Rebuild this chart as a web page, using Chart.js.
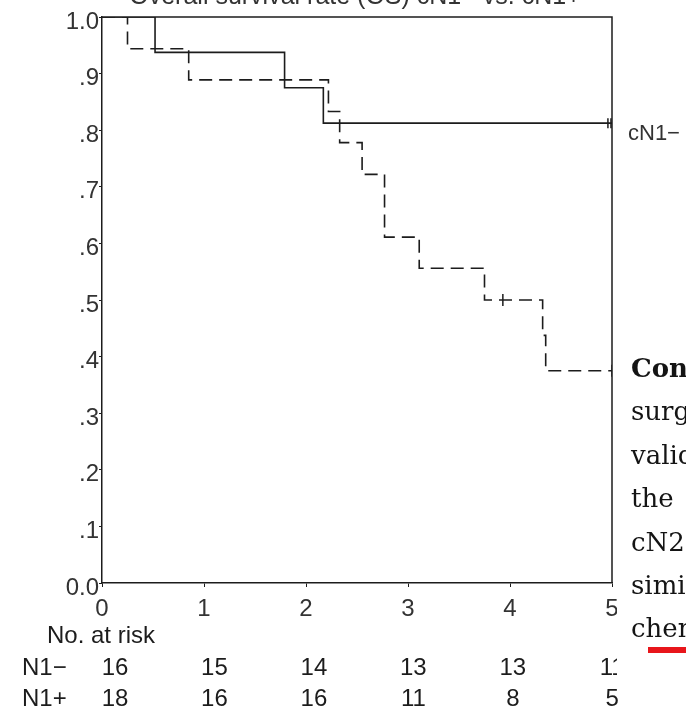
<!DOCTYPE html>
<html>
<head>
<meta charset="utf-8">
<script src="https://cdn.jsdelivr.net/npm/chart.js@4"></script>
<style>
  body { margin: 0; background: #fff; }
  canvas { display: block; }
</style>
</head>
<body>
<canvas id="km" width="686" height="710"></canvas>
<script>
// survival steps (time in years, survival after the event)
const timesNeg = [0, 0.52, 1.79, 2.17, 5];
const survNeg = [1, 0.9375, 0.875, 0.8125, 0.8125];
const timesPos = [0, 0.25, 0.85, 2.22, 2.33, 2.55, 2.77, 3.11, 3.75, 4.32, 4.35, 5];
const survPos = [1, 0.944, 0.889, 0.833, 0.778, 0.722, 0.611, 0.556, 0.5, 0.4375, 0.375, 0.375];

// censored marks
const censorTimesNeg = [4.96, 4.99];
const censorSurvNeg = [0.8125, 0.8125];
const censorTimesPos = [3.93, 5];
const censorSurvPos = [0.5, 0.375];

// number at risk table
const riskYears = [0, 1, 2, 3, 4, 5];
const riskNeg = [16, 15, 14, 13, 13, 11];
const riskPos = [18, 16, 16, 11, 8, 5];
const riskRowLabels = ['N1\u2212', 'N1+'];

const yTickLabels = ['0.0', '.1', '.2', '.3', '.4', '.5', '.6', '.7', '.8', '.9', '1.0'];
const xTickLabels = ['0', '1', '2', '3', '4', '5'];

const titleText = 'Overall survival rate (OS) cN1\u2212 vs. cN1+';
const curveLabel = 'cN1\u2212';
const pageLines = ['Conclusions', 'surgery', 'validated', 'the', 'cN2', 'similar', 'chemotherapy'];

const toPoints = (xs, ys) => xs.map((t, i) => ({ x: t, y: ys[i] }));

const ink = '#1c1c1c';
const sans = '"Liberation Sans", Arial, sans-serif';

const extras = {
  id: 'extras',
  afterDraw(chart) {
    const { ctx, chartArea: a, scales: { x } } = chart;
    ctx.save();

    // top and right side of the frame
    ctx.strokeStyle = ink;
    ctx.lineWidth = 1.5;
    ctx.beginPath();
    ctx.moveTo(a.left, a.top);
    ctx.lineTo(a.right, a.top);
    ctx.lineTo(a.right, a.bottom);
    ctx.stroke();

    // title, only its lower edge is in the picture
    ctx.fillStyle = '#333';
    ctx.font = '25px ' + sans;
    ctx.textAlign = 'center';
    ctx.textBaseline = 'alphabetic';
    ctx.fillText(titleText, 355, 4);

    // curve label at the right
    ctx.textAlign = 'left';
    ctx.textBaseline = 'middle';
    ctx.font = '22px ' + sans;
    ctx.fillStyle = '#333';
    ctx.fillText(curveLabel, 628, 134);

    // number at risk
    ctx.fillStyle = ink;
    ctx.font = '24px ' + sans;
    ctx.fillText('No. at risk', 47, 636);
    ctx.fillText(riskRowLabels[0], 22, 668);
    ctx.fillText(riskRowLabels[1], 22, 699);
    ctx.textAlign = 'center';
    riskYears.forEach((yr, i) => {
      const px = x.getPixelForValue(yr * 0.975) + 13;
      ctx.fillText(String(riskNeg[i]), px, 668);
      ctx.fillText(String(riskPos[i]), px, 699);
    });

    // the page pasted over the lower right corner
    ctx.fillStyle = '#fff';
    ctx.fillRect(617, 338, 69, 342);
    ctx.fillStyle = '#141414';
    ctx.textAlign = 'left';
    ctx.textBaseline = 'alphabetic';
    pageLines.forEach((w, i) => {
      ctx.font = (i === 0 ? 'bold ' : '') + '26px "DejaVu Serif", "Liberation Serif", serif';
      ctx.fillText(w, 631, 377 + i * 43.4);
    });
    ctx.fillStyle = '#e8161b';
    ctx.fillRect(648, 647, 38, 6);

    ctx.restore();
  }
};

new Chart(document.getElementById('km'), {
  type: 'line',
  data: {
    datasets: [
      {
        label: 'cN1-',
        data: toPoints(timesNeg, survNeg),
        stepped: true,
        borderColor: ink,
        borderWidth: 1.6,
        pointRadius: 0,
        fill: false
      },
      {
        label: 'cN1+',
        data: toPoints(timesPos, survPos),
        stepped: true,
        borderColor: ink,
        borderWidth: 1.6,
        borderDash: [13, 7],
        pointRadius: 0,
        fill: false
      },
      {
        label: 'censored cN1-',
        data: toPoints(censorTimesNeg, censorSurvNeg),
        showLine: false,
        pointStyle: 'line',
        rotation: 90,
        pointRadius: 5,
        borderColor: ink,
        pointBorderWidth: 1.5
      },
      {
        label: 'censored cN1+',
        data: toPoints(censorTimesPos, censorSurvPos),
        showLine: false,
        pointStyle: 'line',
        rotation: 90,
        pointRadius: 6,
        borderColor: ink,
        pointBorderWidth: 1.5
      }
    ]
  },
  options: {
    responsive: false,
    animation: false,
    layout: { padding: { top: 17, right: 74, left: 0, bottom: 0 } },
    plugins: {
      legend: { display: false },
      tooltip: { enabled: false }
    },
    scales: {
      x: {
        type: 'linear',
        min: 0,
        max: 5,
        afterFit: (s) => { s.height = 127; },
        border: { color: ink, width: 1.5 },
        grid: { display: true, drawOnChartArea: false, drawTicks: true, tickLength: 4, color: ink },
        ticks: {
          stepSize: 1,
          padding: 8,
          color: '#333',
          font: { family: sans, size: 24 },
          callback: (v) => xTickLabels[v]
        }
      },
      y: {
        min: 0,
        max: 1,
        afterFit: (s) => { s.width = 102; },
        border: { color: ink, width: 1.5 },
        grid: { display: true, drawOnChartArea: false, drawTicks: true, tickLength: 3, color: ink },
        ticks: {
          stepSize: 0.1,
          padding: 0,
          labelOffset: 5,
          color: '#333',
          font: { family: sans, size: 24 },
          callback: (v) => yTickLabels[Math.round(v * 10)]
        }
      }
    }
  },
  plugins: [extras]
});
</script>
</body>
</html>
